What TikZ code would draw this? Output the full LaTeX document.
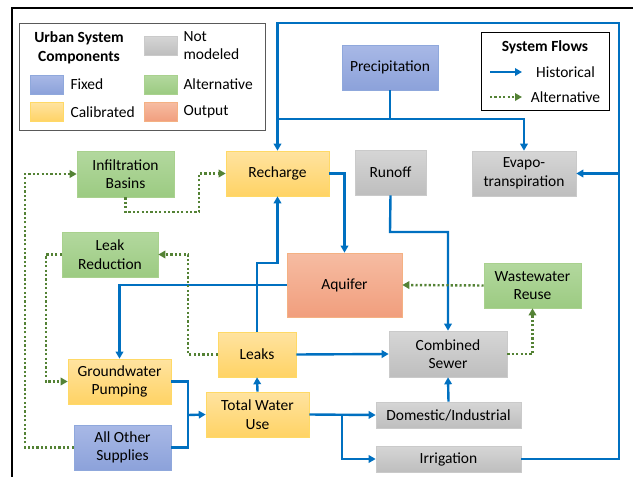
\documentclass[tikz,border=0pt]{standalone}
\usepackage{fontspec}
\setmainfont{Carlito}
\usetikzlibrary{arrows.meta,positioning,calc}

\definecolor{flowBlue}{HTML}{0070C0}
\definecolor{altGreen}{HTML}{548235}
\definecolor{fixedTop}{HTML}{A8B8E6}
\definecolor{fixedBot}{HTML}{8CA2DA}
\definecolor{fixedLine}{HTML}{8FA8DC}
\definecolor{calTop}{HTML}{FFE3A0}
\definecolor{calBot}{HTML}{FFD365}
\definecolor{calLine}{HTML}{FFD966}
\definecolor{altTop}{HTML}{B3D89E}
\definecolor{altBot}{HTML}{9CCB82}
\definecolor{altLine}{HTML}{A9D18E}
\definecolor{noneTop}{HTML}{D6D6D6}
\definecolor{noneBot}{HTML}{BEBEBE}
\definecolor{noneLine}{HTML}{CACACA}
\definecolor{outTop}{HTML}{F6BCA2}
\definecolor{outBot}{HTML}{F19E7D}
\definecolor{outLine}{HTML}{F4B183}

\begin{document}
\begin{tikzpicture}[x=1pt,y=-1pt,font=\fontsize{15.5}{18.5}\selectfont]
		\tikzstyle{box} = [rectangle, align=center, inner sep=0pt, line width=0.6pt, minimum height=45pt]
		\tikzstyle{fixed} = [box, draw=fixedLine, top color=fixedTop, bottom color=fixedBot]
		\tikzstyle{calibrated} = [box, draw=calLine, top color=calTop, bottom color=calBot]
		\tikzstyle{alternative} = [box, draw=altLine, top color=altTop, bottom color=altBot]
		\tikzstyle{notmodeled} = [box, draw=noneLine, top color=noneTop, bottom color=noneBot]
		\tikzstyle{output} = [box, draw=outLine, top color=outTop, bottom color=outBot]
		\tikzstyle{swatch} = [rectangle, minimum width=33pt, minimum height=19pt, inner sep=0pt, line width=0.6pt]
		\tikzstyle{pipe} = [line width=2.4pt, draw=flowBlue]
		\tikzstyle{historical} = [pipe, -{Triangle[length=7pt,width=7.5pt]}]
		\tikzstyle{reuse} = [line width=2.4pt, draw=altGreen, dash pattern=on 2.2pt off 2.2pt, -{Triangle[length=7pt,width=7.5pt]}]

		\useasboundingbox (0,0) rectangle (633,477);
		\draw[line width=2pt] (12,7.5) rectangle (660,500);

		\node (precipitation) [fixed, minimum width=96pt] at (390,67.5) {Precipitation};
		\node (recharge) [calibrated, minimum width=103pt] at (277.5,173.5) {Recharge};
		\node (runoff) [notmodeled, minimum width=71pt] at (390.5,172.5) {Runoff};
		\node (evapotranspiration) [notmodeled, minimum width=104pt] at (524,173.5) {Evapo-\\transpiration};
		\node (infiltrationBasins) [alternative, minimum width=97pt, minimum height=46pt] at (125.5,174) {Infiltration\\Basins};
		\node (leakReduction) [alternative, minimum width=96pt] at (110,254.5) {Leak\\Reduction};
		\node (aquifer) [output, minimum width=115pt, minimum height=64pt] at (344.5,285) {Aquifer};
		\node (wastewaterReuse) [alternative, minimum width=97pt] at (532.5,285.5) {Wastewater\\Reuse};
		\node (leaks) [calibrated, minimum width=78pt] at (257,354.5) {Leaks};
		\node (combinedSewer) [notmodeled, minimum width=118pt, minimum height=46pt] at (448,354) {Combined\\Sewer};
		\node (groundwaterPumping) [calibrated, minimum width=103pt] at (119.5,381.5) {Groundwater\\Pumping};
		\node (totalWaterUse) [calibrated, minimum width=103pt] at (257.5,414.5) {Total Water\\Use};
		\node (domesticIndustrial) [notmodeled, minimum width=145pt, minimum height=26pt] at (448.5,415) {Domestic/Industrial};
		\node (irrigation) [notmodeled, minimum width=145pt, minimum height=26pt] at (448.5,459) {Irrigation};
		\node (otherSupplies) [fixed, minimum width=97pt] at (122.5,447.5) {All Other\\Supplies};

		\coordinate (loopCorner) at (619,23);
		\coordinate (evapJoin) at (619,173.5);
		\coordinate (precipSplit) at (390,119);
		\coordinate (precipJoin) at (278,119);
		\coordinate (runoffJog) at (390,232);
		\coordinate (leaksJog) at (257,263);
		\coordinate (useSplit) at (342,415);
		\coordinate (supplyJoin) at (188,415);
		\coordinate (leakReductionJog) at (188,254.5);
		\coordinate (pumpingJog) at (46,254.5);
		\coordinate (suppliesJog) at (25,447.5);
		\coordinate (basinsJog) at (199,212);

		\draw [historical] (irrigation.east) -| (loopCorner) -| (recharge.north);
		\draw [historical] (evapJoin) -- (evapotranspiration.east);
		\draw [pipe] (precipitation.south) -- (precipSplit) -- (precipJoin);
		\draw [historical] (precipSplit) -| (evapotranspiration.north);
		\draw [historical] (recharge.east) -| (aquifer.north);
		\draw [historical] (runoff.south) -- (runoffJog) -| (combinedSewer.north);
		\draw [historical] (aquifer.west) -| (groundwaterPumping.north);
		\draw [historical] (domesticIndustrial.north) -- (combinedSewer.south);
		\draw [historical] (leaks.east) -- (combinedSewer.west);
		\draw [historical] (totalWaterUse.north) -- (leaks.south);
		\draw [historical] (leaks.north) -- (leaksJog) -| (recharge.south);
		\draw [historical] (totalWaterUse.east) -- (domesticIndustrial.west);
		\draw [historical] (useSplit) |- (irrigation.west);
		\draw [pipe] (groundwaterPumping.east) -| (supplyJoin);
		\draw [pipe] (otherSupplies.east) -| (supplyJoin);
		\draw [historical] (supplyJoin) -- (totalWaterUse.west);

		\draw [reuse] (wastewaterReuse.west) -- (aquifer.east);
		\draw [reuse] (combinedSewer.east) -| (wastewaterReuse.south);
		\draw [reuse] (leaks.west) -| (leakReductionJog) -- (leakReduction.east);
		\draw [reuse] (leakReduction.west) -- (pumpingJog) |- (groundwaterPumping.west);
		\draw [reuse] (otherSupplies.west) -- (suppliesJog) |- (infiltrationBasins.west);
		\draw [reuse] (infiltrationBasins.south) |- (basinsJog) |- (recharge.west);

		\node (componentsFrame) [draw=black!65, line width=0.8pt, fill=white, minimum width=246pt, minimum height=107pt, inner sep=0pt] at (142,76.5) {};
		\node (componentsTitle) [font=\fontsize{15.5}{18.5}\selectfont\bfseries, align=center] at (79,48) {Urban System\\Components};
		\node (noneSwatch) [swatch, draw=noneLine, top color=noneTop, bottom color=noneBot] at (160.5,45.5) {};
		\node (noneLabel) [right=6pt of noneSwatch, align=left, inner sep=0pt] {Not\\modeled};
		\node (fixedSwatch) [swatch, draw=fixedLine, top color=fixedTop, bottom color=fixedBot] at (46.5,84.5) {};
		\node (fixedLabel) [right=7pt of fixedSwatch, inner sep=0pt] {Fixed};
		\node (altSwatch) [swatch, draw=altLine, top color=altTop, bottom color=altBot] at (160.5,84.5) {};
		\node (altLabel) [right=6pt of altSwatch, inner sep=0pt] {Alternative};
		\node (calSwatch) [swatch, draw=calLine, top color=calTop, bottom color=calBot] at (46.5,112) {};
		\node (calLabel) [right=7pt of calSwatch, inner sep=0pt] {Calibrated};
		\node (outSwatch) [swatch, draw=outLine, top color=outTop, bottom color=outBot] at (160.5,112) {};
		\node (outLabel) [right=6pt of outSwatch, inner sep=0pt] {Output};

		\node (flowsFrame) [draw=black, line width=0.8pt, fill=white, minimum width=128pt, minimum height=78pt, inner sep=0pt] at (545,71) {};
		\node (flowsTitle) [font=\fontsize{15.5}{18.5}\selectfont\bfseries] at (545,47) {System Flows};
		\coordinate (historicalStart) at (490,72);
		\coordinate (historicalEnd) at (522,72);
		\coordinate (alternativeStart) at (490,97);
		\coordinate (alternativeEnd) at (522,97);
		\draw [historical] (historicalStart) -- (historicalEnd);
		\draw [reuse] (alternativeStart) -- (alternativeEnd);
		\node (historicalLabel) at (565.5,72) {Historical};
		\node (alternativeLabel) at (565.5,97) {Alternative};
	\end{tikzpicture}
\end{document}
